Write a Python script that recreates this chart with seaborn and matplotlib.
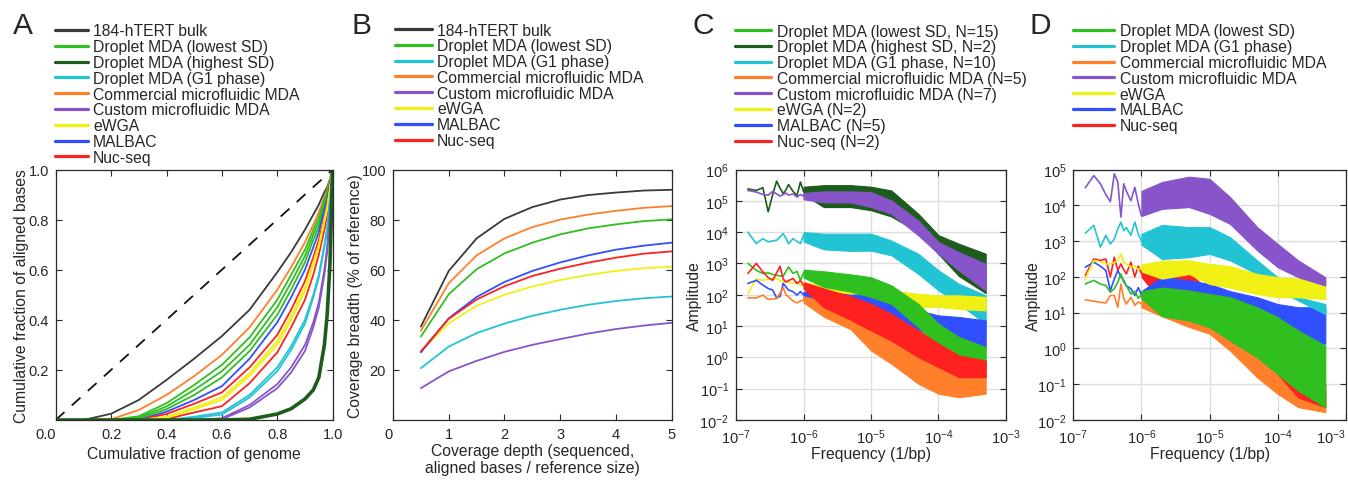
import numpy as np
import pandas as pd
import matplotlib
matplotlib.use("Agg")
import matplotlib.pyplot as plt
from matplotlib.lines import Line2D
from matplotlib.ticker import NullLocator, FixedLocator, FormatStrFormatter
import seaborn as sns

# ---------------- data ----------------
# Panel A: cumulative fraction of aligned bases vs cumulative fraction of genome
a_x = [0, 0.1, 0.2, 0.3, 0.4, 0.5, 0.6, 0.7, 0.8, 0.85, 0.9, 0.93, 0.95, 0.97, 0.98, 0.99, 1.0]
a_bulk = [0, 0, 0.025, 0.08, 0.16, 0.245, 0.335, 0.44, 0.59, 0.67, 0.76, 0.82, 0.86, 0.91, 0.93, 0.96, 1.0]
a_commercial = [0, 0, 0.003, 0.04, 0.10, 0.175, 0.26, 0.37, 0.52, 0.61, 0.71, 0.78, 0.83, 0.89, 0.92, 0.96, 1.0]
a_lowest_1 = [0, 0, 0, 0.015, 0.067, 0.14, 0.22, 0.33, 0.48, 0.58, 0.68, 0.76, 0.81, 0.88, 0.91, 0.95, 1.0]
a_lowest_2 = [0, 0, 0, 0.01, 0.054, 0.12, 0.195, 0.30, 0.45, 0.55, 0.655, 0.74, 0.79, 0.87, 0.90, 0.95, 1.0]
a_lowest_3 = [0, 0, 0, 0.005, 0.043, 0.10, 0.17, 0.275, 0.42, 0.52, 0.63, 0.72, 0.77, 0.86, 0.89, 0.94, 1.0]
a_malbac = [0, 0, 0, 0, 0.033, 0.08, 0.135, 0.245, 0.39, 0.49, 0.60, 0.69, 0.75, 0.84, 0.88, 0.94, 1.0]
a_nucseq_1 = [0, 0, 0, 0, 0.024, 0.065, 0.11, 0.21, 0.34, 0.44, 0.555, 0.65, 0.72, 0.81, 0.86, 0.93, 1.0]
a_ewga_1 = [0, 0, 0, 0, 0.013, 0.05, 0.09, 0.187, 0.315, 0.415, 0.53, 0.63, 0.70, 0.80, 0.85, 0.92, 1.0]
a_ewga_2 = [0, 0, 0, 0, 0.008, 0.043, 0.08, 0.176, 0.30, 0.40, 0.515, 0.62, 0.69, 0.79, 0.84, 0.92, 1.0]
a_nucseq_2 = [0, 0, 0, 0, 0.004, 0.03, 0.055, 0.147, 0.27, 0.37, 0.48, 0.58, 0.66, 0.76, 0.82, 0.91, 1.0]
a_g1_1 = [0, 0, 0, 0, 0, 0.013, 0.03, 0.10, 0.21, 0.295, 0.40, 0.50, 0.58, 0.70, 0.77, 0.88, 1.0]
a_g1_2 = [0, 0, 0, 0, 0, 0.008, 0.022, 0.09, 0.195, 0.28, 0.385, 0.49, 0.57, 0.69, 0.76, 0.87, 1.0]
a_custom_1 = [0, 0, 0, 0, 0, 0, 0.007, 0.06, 0.143, 0.21, 0.30, 0.39, 0.47, 0.60, 0.69, 0.83, 1.0]
a_custom_2 = [0, 0, 0, 0, 0, 0, 0.003, 0.05, 0.127, 0.19, 0.276, 0.37, 0.45, 0.58, 0.67, 0.82, 1.0]
a_highest = [0, 0, 0, 0, 0, 0, 0, 0.003, 0.024, 0.045, 0.084, 0.12, 0.17, 0.30, 0.42, 0.62, 1.0]

# Panel B: coverage breadth (%) vs coverage depth
b_depth = [0.5, 1, 1.5, 2, 2.5, 3, 3.5, 4, 4.5, 5]
b_bulk = [37.3, 59.5, 72.5, 80.3, 85.0, 88.0, 89.8, 90.8, 91.6, 91.9]
b_lowest = [33.3, 50.2, 60.2, 66.5, 70.8, 74.1, 76.5, 78.1, 79.4, 80.1]
b_g1 = [20.7, 29.3, 34.7, 38.5, 41.6, 44.0, 46.0, 47.5, 48.6, 49.3]
b_commercial = [35.6, 54.6, 65.7, 72.5, 77.0, 80.0, 82.0, 83.5, 84.7, 85.4]
b_custom = [12.7, 19.4, 23.6, 27.2, 30.0, 32.3, 34.5, 36.3, 37.7, 38.8]
b_ewga = [27.4, 38.6, 45.6, 50.0, 53.3, 55.9, 57.9, 59.5, 60.6, 61.2]
b_malbac = [27.0, 40.6, 49.1, 55.1, 59.5, 62.9, 65.7, 68.0, 69.6, 70.8]
b_nucseq = [27.4, 40.4, 48.1, 53.4, 57.5, 60.4, 62.8, 64.8, 66.4, 67.3]

# Panels C and D: amplitude spectra, given as log10(amplitude)
# sparse low-frequency part (single line per method)
freq_low = [1.5e-7, 2e-7, 2.5e-7, 3e-7, 3.5e-7, 4e-7, 4.5e-7, 5e-7, 5.5e-7, 6e-7,
            7e-7, 8e-7, 9e-7, 1e-6]
# dense part: lower / upper envelope of the noisy trace
freq_band = [1e-6, 2e-6, 5e-6, 1e-5, 2e-5, 5e-5, 1e-4, 2e-4, 5e-4]

c_low = {
    "highest": [5.38, 5.33, 5.42, 4.65, 5.2, 5.63, 5.4, 5.23, 5.35, 5.52, 5.3, 5.17, 5.6, 5.3],
    "custom": [5.33, 5.28, 5.2, 5.18, 5.3, 5.22, 5.15, 5.2, 5.25, 5.18, 5.22, 5.12, 5.2, 5.15],
    "g1": [4.0, 3.63, 3.79, 3.69, 3.72, 3.74, 3.85, 3.95, 3.8, 3.63, 3.79, 3.7, 3.63, 3.9],
    "ewga": [2.04, 2.5, 2.46, 2.5, 2.52, 2.52, 2.45, 2.41, 2.4, 2.41, 2.35, 2.4, 2.3, 2.35],
    "malbac": [2.36, 2.46, 2.31, 2.2, 2.15, 1.9, 1.95, 2.36, 2.25, 2.15, 2.1, 1.99, 2.1, 2.0],
    "lowest": [3.0, 2.78, 2.68, 2.7, 2.65, 2.62, 2.6, 2.59, 2.75, 2.89, 2.68, 2.75, 2.46, 2.7],
    "commercial": [1.9, 1.9, 1.99, 1.85, 1.87, 1.88, 2.05, 2.23, 2.0, 1.93, 1.8, 1.74, 1.8, 1.83],
    "nucseq": [2.68, 3.0, 2.73, 2.55, 2.46, 2.7, 2.91, 2.5, 2.41, 2.45, 2.52, 2.36, 2.45, 2.3],
}
c_hi = {
    "highest": [5.45, 5.5, 5.5, 5.45, 5.33, 4.59, 3.9, 3.63, 3.31],
    "custom": [5.25, 5.3, 5.3, 5.28, 5.01, 4.37, 3.68, 3.36, 2.99],
    "g1": [4.0, 3.95, 3.95, 3.95, 3.73, 3.31, 2.78, 2.35, 1.98],
    "ewga": [2.4, 2.3, 2.3, 2.24, 2.14, 2.03, 1.98, 1.98, 1.93],
    "malbac": [2.1, 2.1, 2.0, 2.03, 1.71, 1.5, 1.34, 1.29, 1.18],
    "lowest": [2.8, 2.75, 2.65, 2.56, 2.3, 1.71, 1.07, 0.65, 0.33],
    "commercial": [1.95, 1.8, 1.55, 1.29, 0.86, 0.22, -0.2, -0.41, -0.47],
    "nucseq": [2.4, 2.2, 1.95, 1.71, 1.39, 0.86, 0.44, 0.06, -0.1],
}
c_lo = {
    "highest": [5.2, 4.8, 4.8, 4.7, 4.5, 4.0, 3.3, 2.6, 2.05],
    "custom": [5.05, 4.95, 4.95, 4.8, 4.59, 3.9, 3.31, 2.78, 2.14],
    "g1": [3.7, 3.45, 3.4, 3.41, 3.26, 2.67, 2.14, 1.71, 1.07],
    "ewga": [2.25, 1.9, 1.9, 1.93, 1.77, 1.61, 1.61, 1.55, 1.5],
    "malbac": [1.9, 1.5, 1.2, 1.29, 1.18, 0.86, 0.65, 0.44, 0.33],
    "lowest": [2.55, 2.25, 2.1, 1.93, 1.71, 0.97, 0.33, -0.1, -0.36],
    "commercial": [1.75, 1.3, 0.9, 0.22, -0.2, -0.84, -1.16, -1.27, -1.16],
    "nucseq": [2.2, 1.6, 1.2, 0.86, 0.54, 0.01, -0.31, -0.63, -0.63],
}

d_low = {
    "commercial": [1.36, 1.32, 1.29, 1.27, 1.48, 1.48, 1.15, 1.8, 1.4, 1.24, 1.43, 1.2, 1.3, 1.25],
    "nucseq": [2.04, 2.5, 2.46, 2.5, 2.0, 2.55, 2.18, 2.36, 2.2, 2.08, 2.41, 2.0, 2.3, 2.1],
    "malbac": [2.27, 2.41, 2.3, 2.18, 1.62, 1.94, 2.18, 2.0, 1.9, 1.75, 1.67, 1.48, 1.7, 1.5],
    "lowest": [1.8, 1.9, 1.8, 1.76, 1.57, 1.67, 1.85, 2.08, 1.85, 1.76, 1.52, 1.6, 1.4, 1.5],
    "g1": [3.22, 3.44, 2.83, 3.16, 2.92, 3.06, 3.34, 3.53, 3.29, 3.38, 3.16, 3.53, 3.2, 3.0],
    "ewga": [1.94, 2.46, 2.42, 2.36, 2.36, 2.4, 2.46, 2.64, 2.4, 2.36, 2.27, 2.3, 2.2, 2.25],
    "custom": [4.49, 4.83, 4.6, 4.3, 4.1, 4.88, 4.65, 3.67, 4.6, 4.4, 4.13, 4.5, 4.04, 3.71],
}
d_hi = {
    "commercial": [1.35, 1.6, 1.5, 1.24, 0.87, 0.22, -0.25, -0.81, -1.18],
    "nucseq": [2.2, 2.3, 2.1, 1.62, 1.24, 0.78, 0.31, -0.43, -0.99],
    "malbac": [1.6, 2.0, 1.9, 1.8, 1.6, 1.43, 1.24, 1.15, 1.15],
    "lowest": [1.6, 1.7, 1.62, 1.52, 1.43, 1.15, 0.87, 0.5, 0.08],
    "g1": [3.2, 3.45, 3.39, 3.39, 3.11, 2.46, 1.99, 1.43, 1.24],
    "ewga": [2.35, 2.45, 2.46, 2.36, 2.3, 2.08, 1.99, 1.95, 1.9],
    "custom": [4.4, 4.65, 4.8, 4.74, 4.23, 3.39, 2.92, 2.46, 1.99],
}
d_lo = {
    "commercial": [1.15, 0.9, 0.6, 0.41, -0.06, -0.81, -1.27, -1.64, -1.78],
    "nucseq": [2.0, 1.3, 1.0, 0.78, 0.41, -0.15, -0.71, -1.37, -1.64],
    "malbac": [1.4, 1.2, 1.1, 1.06, 0.9, 0.69, 0.41, 0.22, 0.13],
    "lowest": [1.4, 0.9, 0.78, 0.59, 0.22, -0.25, -0.71, -1.18, -1.64],
    "g1": [2.9, 2.5, 2.55, 2.64, 2.46, 2.08, 1.62, 1.34, 0.96],
    "ewga": [2.15, 1.95, 2.08, 1.8, 1.7, 1.52, 1.43, 1.43, 1.38],
    "custom": [3.7, 3.9, 3.95, 3.76, 3.48, 2.74, 2.27, 1.99, 1.76],
}

# ---------------- styling ----------------
colors = {
    "bulk": "#3a3a3a", "lowest": "#2fbf1f", "highest": "#1c5c1c", "g1": "#22c4d4",
    "commercial": "#ff7f2a", "custom": "#8755c9", "ewga": "#f0f014",
    "malbac": "#3050ff", "nucseq": "#ff2020",
}
names = {
    "bulk": "184-hTERT bulk", "lowest": "Droplet MDA (lowest SD)",
    "highest": "Droplet MDA (highest SD)", "g1": "Droplet MDA (G1 phase)",
    "commercial": "Commercial microfluidic MDA", "custom": "Custom microfluidic MDA",
    "ewga": "eWGA", "malbac": "MALBAC", "nucseq": "Nuc-seq",
}
c_names = {
    "lowest": "Droplet MDA (lowest SD, N=15)", "highest": "Droplet MDA (highest SD, N=2)",
    "g1": "Droplet MDA (G1 phase, N=10)", "commercial": "Commercial microfluidic MDA (N=5)",
    "custom": "Custom microfluidic MDA (N=7)", "ewga": "eWGA (N=2)",
    "malbac": "MALBAC (N=5)", "nucseq": "Nuc-seq (N=2)",
}

sns.set_style("ticks")
plt.rcParams['font.family'] = ['Liberation Sans', 'DejaVu Sans']
plt.rcParams['mathtext.fontset'] = 'custom'
plt.rcParams['mathtext.rm'] = 'Liberation Sans'
plt.rcParams['mathtext.it'] = 'Liberation Sans:italic'
plt.rcParams['axes.unicode_minus'] = False

W, H = 1348, 481
FS = 11.3
TFS = 10.5


def box(l, r, t=170.5, b=421):
    return [l / W, 1 - b / H, (r - l) / W, (b - t) / H]


def style_ax(ax):
    for s in ax.spines.values():
        s.set_color("#2a2a2a")
        s.set_linewidth(0.9)
    ax.tick_params(direction="in", top=True, right=True, length=4, width=0.8,
                   labelsize=TFS, pad=5, color="#2a2a2a")


def add_legend(ax, keys, labels, x_px, top_px, hl, tp=0.35):
    handles = [Line2D([], [], color=colors[k], lw=2.3) for k in keys]
    ax.legend(handles, labels, loc="upper left",
              bbox_to_anchor=(x_px / W, 1 - top_px / H), bbox_transform=fig.transFigure,
              frameon=False, borderpad=0, borderaxespad=0, handlelength=hl,
              handletextpad=tp, labelspacing=0.05, fontsize=FS)


fig = plt.figure(figsize=(W / 100, H / 100), dpi=100)
axA = fig.add_axes(box(55.7, 332.7))
axB = fig.add_axes(box(393, 671.7))
axC = fig.add_axes(box(736, 1006))
axD = fig.add_axes(box(1073.3, 1345.8))

# ---------------- panel A ----------------
a_curves = [("bulk", a_bulk), ("commercial", a_commercial), ("lowest", a_lowest_1),
            ("lowest", a_lowest_2), ("lowest", a_lowest_3), ("malbac", a_malbac),
            ("nucseq", a_nucseq_1), ("ewga", a_ewga_1), ("ewga", a_ewga_2),
            ("nucseq", a_nucseq_2), ("g1", a_g1_1), ("g1", a_g1_2),
            ("custom", a_custom_1), ("custom", a_custom_2)]
rows = []
for i, (k, ys) in enumerate(a_curves):
    for x, y in zip(a_x, ys):
        rows.append({"x": x, "y": y, "method": k, "curve": i})
df_a = pd.DataFrame(rows)
axA.plot([0, 1], [0, 1], color="#111111", lw=1.3, ls=(0, (6.5, 5.5)))
sns.lineplot(data=df_a, x="x", y="y", hue="method", units="curve", estimator=None,
             palette=colors, legend=False, lw=1.3, sort=False, ax=axA)
sns.lineplot(x=a_x, y=a_highest, color=colors["highest"], lw=2.6, ax=axA)
axA.set_xlim(0, 1)
axA.set_ylim(0, 1)
axA.set_xticks([0, 0.2, 0.4, 0.6, 0.8, 1.0])
axA.set_yticks([0.2, 0.4, 0.6, 0.8, 1.0])
axA.xaxis.set_major_formatter(FormatStrFormatter("%.1f"))
axA.yaxis.set_major_formatter(FormatStrFormatter("%.1f"))
axA.set_xlabel("Cumulative fraction of genome", fontsize=FS)
axA.set_ylabel("Cumulative fraction of aligned bases", fontsize=FS)
style_ax(axA)
axA.get_xticklabels()[0].set_horizontalalignment("right")
axA.xaxis.set_label_coords(0.5, -0.104)
axA.yaxis.set_label_coords(-0.098, 0.5)
keysA = ["bulk", "lowest", "highest", "g1", "commercial", "custom", "ewga", "malbac", "nucseq"]
add_legend(axA, keysA, [names[k] for k in keysA], 55, 24.5, 2.1, 0.32)

# ---------------- panel B ----------------
b_series = {"bulk": b_bulk, "lowest": b_lowest, "g1": b_g1, "commercial": b_commercial,
            "custom": b_custom, "ewga": b_ewga, "malbac": b_malbac, "nucseq": b_nucseq}
df_b = pd.DataFrame([{"depth": d, "breadth": v, "method": k}
                     for k, vals in b_series.items() for d, v in zip(b_depth, vals)])
sns.lineplot(data=df_b, x="depth", y="breadth", hue="method", palette=colors,
             legend=False, lw=1.3, ax=axB)
axB.set_xlim(0, 5)
axB.set_ylim(0, 100)
axB.set_xticks([0, 1, 2, 3, 4, 5])
axB.set_yticks([20, 40, 60, 80, 100])
axB.set_xlabel("Coverage depth (sequenced,\naligned bases / reference size)", fontsize=FS,
               linespacing=1.15)
axB.set_ylabel("Coverage breadth (% of reference)", fontsize=FS)
style_ax(axB)
axB.get_xticklabels()[0].set_horizontalalignment("right")
axB.xaxis.set_label_coords(0.5, -0.092)
axB.yaxis.set_label_coords(-0.108, 0.5)
keysB = ["bulk", "lowest", "g1", "commercial", "custom", "ewga", "malbac", "nucseq"]
add_legend(axB, keysB, [names[k] for k in keysB], 395, 23.5, 2.36, 0.32)


# ---------------- panels C and D ----------------
def spectrum_panel(ax, low, hi, lo, ymin, ymax):
    ax.set_xscale("log")
    ax.set_yscale("log")
    ax.grid(True, which="major", color="#dedede", lw=1.0)
    ax.set_axisbelow(True)
    for k in low:
        sns.lineplot(x=freq_low, y=10.0 ** np.array(low[k]), color=colors[k], lw=1.2, ax=ax)
        ax.fill_between(freq_band, 10.0 ** np.array(lo[k]), 10.0 ** np.array(hi[k]),
                        color=colors[k], lw=0.8)
    ax.set_xlim(1e-7, 1e-3)
    ax.set_ylim(10.0 ** ymin, 10.0 ** ymax)
    ax.xaxis.set_major_locator(FixedLocator([10.0 ** e for e in range(-7, -2)]))
    ax.yaxis.set_major_locator(FixedLocator([10.0 ** e for e in range(ymin, ymax + 1)]))
    ax.xaxis.set_minor_locator(NullLocator())
    ax.yaxis.set_minor_locator(NullLocator())
    ax.set_xlabel("Frequency (1/bp)", fontsize=FS)
    ax.set_ylabel("Amplitude", fontsize=FS)
    style_ax(ax)
    ax.xaxis.set_label_coords(0.5, -0.104)


spectrum_panel(axC, c_low, c_hi, c_lo, -2, 6)
axC.yaxis.set_label_coords(-0.126, 0.5)
keysC = ["lowest", "highest", "g1", "commercial", "custom", "ewga", "malbac", "nucseq"]
add_legend(axC, keysC, [c_names[k] for k in keysC], 735, 24.5, 2.3, 0.38)

spectrum_panel(axD, d_low, d_hi, d_lo, -2, 5)
axD.yaxis.set_label_coords(-0.119, 0.5)
fig.canvas.draw()
axD.get_xticklabels()[-1].set_horizontalalignment("right")
keysD = ["lowest", "g1", "commercial", "custom", "ewga", "malbac", "nucseq"]
add_legend(axD, keysD, [names[k] for k in keysD], 1073, 24.5, 2.6, 0.38)

# panel letters
for letter, xp in [("A", 13), ("B", 351), ("C", 692), ("D", 1029)]:
    fig.text(xp / W, 1 - 12 / H, letter, fontsize=21.5, ha="left", va="top")

fig.savefig("out.png", dpi=100)
